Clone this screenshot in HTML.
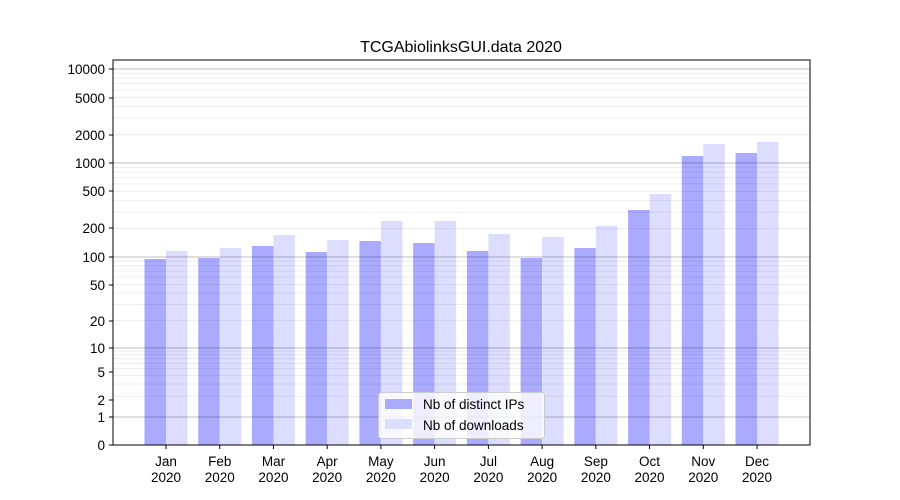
<!DOCTYPE html>
<html><head><meta charset="utf-8"><style>body{margin:0;background:#fff}svg{display:block}text{font-family:"Liberation Sans","DejaVu Sans",sans-serif}</style></head>
<body>
<svg width="900" height="500" xmlns="http://www.w3.org/2000/svg">
<rect width="900" height="500" fill="#fff"/>
<text x="461" y="52" font-size="16" text-anchor="middle">TCGAbiolinksGUI.data 2020</text>
<g id="bars"></g>
<g id="grid"></g>
<rect x="113" y="60" width="697" height="385" fill="none" stroke="#000" stroke-width="1"/>
<g id="yt" font-size="13.5" text-anchor="end"></g>
<g id="xt" font-size="13.5" text-anchor="middle"></g>
<g>
<rect x="378.5" y="392.5" width="166" height="46" rx="3" fill="#fff" fill-opacity="0.8" stroke="#ccc"/>
<rect x="385" y="399" width="27" height="10" fill="#aaaaff"/>
<rect x="385" y="419" width="27" height="10" fill="#ddddff"/>
<text x="423" y="409" font-size="13.5">Nb of distinct IPs</text>
<text x="423" y="430" font-size="13.5">Nb of downloads</text>
</g>
<script>
var ns="http://www.w3.org/2000/svg";
function el(p,t,a,txt){var e=document.createElementNS(ns,t);for(var k in a)e.setAttribute(k,a[k]);if(txt)e.textContent=txt;p.appendChild(e);return e;}
var g=document.getElementById("grid"),yt=document.getElementById("yt"),xt=document.getElementById("xt"),b=document.getElementById("bars");
var dec=[417,348,257,163,69];
for(var d=0;d<4;d++){for(var k=2;k<=9;k++){var y=dec[d]-(dec[d]-dec[d+1])*Math.log10(k);el(g,"line",{x1:113,x2:810,y1:y,y2:y,stroke:"#000","stroke-opacity":0.08,"stroke-width":0.8});}}
for(var k=2;k<=5;k++){var y=69-94*Math.log10(k);if(y>60)el(g,"line",{x1:113,x2:810,y1:y,y2:y,stroke:"#000","stroke-opacity":0.08,"stroke-width":0.8});}
dec.forEach(function(y){el(g,"line",{x1:113,x2:810,y1:y,y2:y,stroke:"#000","stroke-opacity":0.25,"stroke-width":0.9});});
var ticks=[["10000",69],["5000",98],["2000",135],["1000",163],["500",191],["200",228],["100",257],["50",285],["20",321],["10",348],["5",372],["2",400],["1",417],["0",445]];
ticks.forEach(function(t){el(yt,"line",{x1:109,x2:113,y1:t[1],y2:t[1],stroke:"#000"});el(yt,"text",{x:105,y:t[1]+5},t[0]);});
var m=["Jan","Feb","Mar","Apr","May","Jun","Jul","Aug","Sep","Oct","Nov","Dec"];
var ip=[259,258,246,252,241,243,251,258,248,210,156,153];
var dl=[251,248,235,240,221,221,234,237,226,194,144,142];
for(var i=0;i<12;i++){var c=166+i*53.73;
el(b,"rect",{x:c-21.5,y:ip[i],width:21.5,height:445-ip[i],fill:"#aaaaff"});
el(b,"rect",{x:c,y:dl[i],width:21.5,height:445-dl[i],fill:"#ddddff"});
el(xt,"line",{x1:c,x2:c,y1:445,y2:449,stroke:"#000"});
el(xt,"text",{x:c,y:466},m[i]);el(xt,"text",{x:c,y:482},"2020");}
</script>
</svg>
</body></html>
